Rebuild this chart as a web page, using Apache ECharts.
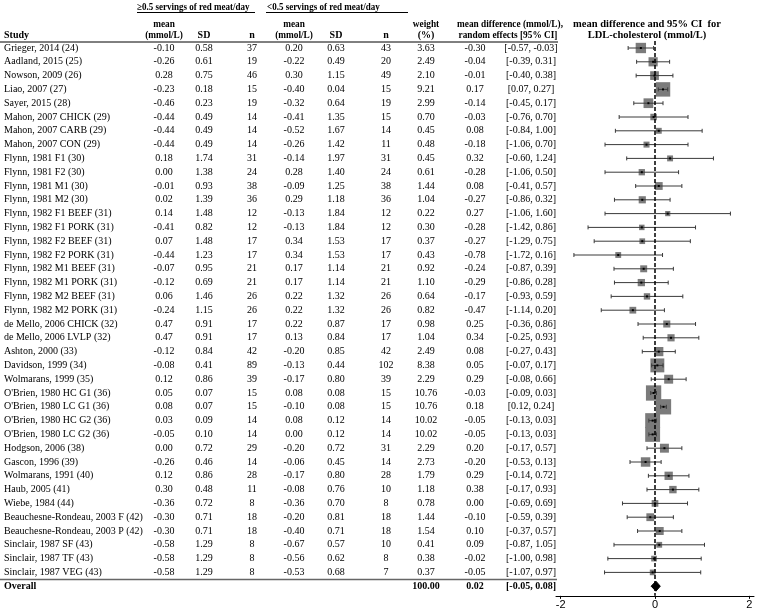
<!DOCTYPE html>
<html><head><meta charset="utf-8">
<script src="https://cdn.jsdelivr.net/npm/echarts@6/dist/echarts.min.js"></script>
<style>html,body{margin:0;padding:0;background:#fff}#c{width:757px;height:613px}</style>
</head><body><div id="c"></div>
<script>
const studies = ["Grieger, 2014 (24)","Aadland, 2015 (25)","Nowson, 2009 (26)","Liao, 2007 (27)","Sayer, 2015 (28)",
"Mahon, 2007 CHICK (29)","Mahon, 2007 CARB (29)","Mahon, 2007 CON (29)","Flynn, 1981 F1 (30)","Flynn, 1981 F2 (30)",
"Flynn, 1981 M1 (30)","Flynn, 1981 M2 (30)","Flynn, 1982 F1 BEEF (31)","Flynn, 1982 F1 PORK (31)","Flynn, 1982 F2 BEEF (31)",
"Flynn, 1982 F2 PORK (31)","Flynn, 1982 M1 BEEF (31)","Flynn, 1982 M1 PORK (31)","Flynn, 1982 M2 BEEF (31)","Flynn, 1982 M2 PORK (31)",
"de Mello, 2006 CHICK (32)","de Mello, 2006 LVLP (32)","Ashton, 2000 (33)","Davidson, 1999 (34)","Wolmarans, 1999 (35)",
"O'Brien, 1980 HC G1 (36)","O'Brien, 1980 LC G1 (36)","O'Brien, 1980 HC G2 (36)","O'Brien, 1980 LC G2 (36)","Hodgson, 2006 (38)",
"Gascon, 1996 (39)","Wolmarans, 1991 (40)","Haub, 2005 (41)","Wiebe, 1984 (44)","Beauchesne-Rondeau, 2003 F (42)",
"Beauchesne-Rondeau, 2003 P (42)","Sinclair, 1987 SF (43)","Sinclair, 1987 TF (43)","Sinclair, 1987 VEG (43)"];
const mean1 = [-0.10,-0.26,0.28,-0.23,-0.46,-0.44,-0.44,-0.44,0.18,0.00,-0.01,0.02,0.14,-0.41,0.07,-0.44,-0.07,-0.12,0.06,-0.24,0.47,0.47,-0.12,-0.08,0.12,0.05,0.08,0.03,-0.05,0.00,-0.26,0.12,0.30,-0.36,-0.30,-0.30,-0.58,-0.58,-0.58];
const sd1 = [0.58,0.61,0.75,0.18,0.23,0.49,0.49,0.49,1.74,1.38,0.93,1.39,1.48,0.82,1.48,1.23,0.95,0.69,1.46,1.15,0.91,0.91,0.84,0.41,0.86,0.07,0.07,0.09,0.10,0.72,0.46,0.86,0.48,0.72,0.71,0.71,1.29,1.29,1.29];
const n1 = [37,19,46,15,19,14,14,14,31,24,38,36,12,12,17,17,21,21,26,26,17,17,42,89,39,15,15,14,14,29,14,28,11,8,18,18,8,8,8];
const mean2 = [0.20,-0.22,0.30,-0.40,-0.32,-0.41,-0.52,-0.26,-0.14,0.28,-0.09,0.29,-0.13,-0.13,0.34,0.34,0.17,0.17,0.22,0.22,0.22,0.13,-0.20,-0.13,-0.17,0.08,-0.10,0.08,0.00,-0.20,-0.06,-0.17,-0.08,-0.36,-0.20,-0.40,-0.67,-0.56,-0.53];
const sd2 = [0.63,0.49,1.15,0.04,0.64,1.35,1.67,1.42,1.97,1.40,1.25,1.18,1.84,1.84,1.53,1.53,1.14,1.14,1.32,1.32,0.87,0.84,0.85,0.44,0.80,0.08,0.08,0.12,0.12,0.72,0.45,0.80,0.76,0.70,0.81,0.71,0.57,0.62,0.68];
const n2 = [43,20,49,15,19,15,14,11,31,24,38,36,12,12,17,17,21,21,26,26,17,17,42,102,39,15,15,14,14,31,14,28,10,8,18,18,10,8,7];
const weight = [3.63,2.49,2.10,9.21,2.99,0.70,0.45,0.48,0.45,0.61,1.44,1.04,0.22,0.30,0.37,0.43,0.92,1.10,0.64,0.82,0.98,1.04,2.49,8.38,2.29,10.76,10.76,10.02,10.02,2.29,2.73,1.79,1.18,0.78,1.44,1.54,0.41,0.38,0.37];
const md = [-0.30,-0.04,-0.01,0.17,-0.14,-0.03,0.08,-0.18,0.32,-0.28,0.08,-0.27,0.27,-0.28,-0.27,-0.78,-0.24,-0.29,-0.17,-0.47,0.25,0.34,0.08,0.05,0.29,-0.03,0.18,-0.05,-0.05,0.20,-0.20,0.29,0.38,0.00,-0.10,0.10,0.09,-0.02,-0.05];
const ciLow = [-0.57,-0.39,-0.40,0.07,-0.45,-0.76,-0.84,-1.06,-0.60,-1.06,-0.41,-0.86,-1.06,-1.42,-1.29,-1.72,-0.87,-0.86,-0.93,-1.14,-0.36,-0.25,-0.27,-0.07,-0.08,-0.09,0.12,-0.13,-0.13,-0.17,-0.53,-0.14,-0.17,-0.69,-0.59,-0.37,-0.87,-1.00,-1.07];
const ciHigh = [-0.03,0.31,0.38,0.27,0.17,0.70,1.00,0.70,1.24,0.50,0.57,0.32,1.60,0.86,0.75,0.16,0.39,0.28,0.59,0.20,0.86,0.93,0.43,0.17,0.66,0.03,0.24,0.03,0.03,0.57,0.13,0.72,0.93,0.69,0.39,0.57,1.05,0.98,0.97];
const overall = {label:"Overall", weight:100.00, md:0.02, lo:-0.05, hi:0.08};
const axisTicks = [-2, 0, 2];

const SERIF = '"Liberation Serif","Times New Roman",serif';
const FS = 10;
const COL = {study:4, mean1:164, sd1:204, n1:252, mean2:294, sd2:336, n2:386, w:426, md:475, ci:531};
const f2 = v => v.toFixed(2);
const ciText = (a,b) => '[' + f2(a) + ', ' + f2(b) + ']';

const chart = echarts.init(document.getElementById('c'), null, {renderer:'canvas'});
const NROW = studies.length;
const yAx = {type:'value', inverse:true, min:-0.5, max:39.7, show:false};
const gridTop = 41.1, gridBottom = 17.14;

function txt(x, y, text, align, bold, size, sx){
  return {type:'text', x:x, y:y, scaleX:sx||1, style:{text:text, align:align||'center', verticalAlign:'middle',
    fontFamily:SERIF, fontSize:size||FS, fontWeight:bold?'bold':'normal', fill:'#000'}};
}

const tableData = studies.map((s,i)=>[0,i]);
tableData.push([0, NROW]);

const option = {
  animation:false,
  grid:[
    {left:0, right:0, top:gridTop, bottom:gridBottom},
    {left:556, right:3, top:gridTop, bottom:gridBottom}
  ],
  xAxis:[
    {gridIndex:0, type:'value', min:0, max:757, show:false},
    {gridIndex:1, type:'value', min:-2.1, max:2.1, splitLine:{show:false},
      axisLine:{show:true, onZero:false, lineStyle:{color:'#000', width:1}},
      axisTick:{show:true, customValues:axisTicks, length:3, lineStyle:{color:'#000'}},
      axisLabel:{customValues:axisTicks, color:'#000', fontFamily:'"Liberation Sans",Arial,sans-serif', fontSize:11, margin:4,
        formatter:v=>String(v)}}
  ],
  yAxis:[Object.assign({gridIndex:0}, yAx), Object.assign({gridIndex:1}, yAx)],
  graphic:[
    txt(137, 7, '\u22650.5 servings of red meat/day', 'left', true, 10, 0.9),
    txt(267, 7, '<0.5 servings of red meat/day', 'left', true, 10, 0.9),
    {type:'line', shape:{x1:137, y1:12.5, x2:255, y2:12.5}, style:{stroke:'#000', lineWidth:1}},
    {type:'line', shape:{x1:266, y1:12.5, x2:408, y2:12.5}, style:{stroke:'#000', lineWidth:1}},
    txt(COL.mean1, 24, 'mean', 'center', true, 10, 0.93), txt(COL.mean1, 35.5, '(mmol/L)', 'center', true, 10, 0.93),
    txt(COL.sd1, 35.5, 'SD', 'center', true), txt(COL.n1, 35.5, 'n', 'center', true),
    txt(COL.mean2, 24, 'mean', 'center', true, 10, 0.93), txt(COL.mean2, 35.5, '(mmol/L)', 'center', true, 10, 0.93),
    txt(COL.sd2, 35.5, 'SD', 'center', true), txt(COL.n2, 35.5, 'n', 'center', true),
    txt(COL.study, 35.5, 'Study', 'left', true),
    txt(COL.w, 24, 'weight', 'center', true, 10, 0.93), txt(COL.w, 35.5, '(%)', 'center', true),
    txt(510, 24, 'mean difference (mmol/L),', 'center', true, 10, 0.93),
    txt(508, 35.5, 'random effects [95% CI]', 'center', true, 10, 0.93),
    txt(647, 24, 'mean difference and 95% CI  for', 'center', true, 10.5),
    txt(647, 35.5, 'LDL-cholesterol (mmol/L)', 'center', true, 10.5),
    {type:'line', shape:{x1:0, y1:42, x2:558, y2:42}, style:{stroke:'#000', lineWidth:1}},
    {type:'line', shape:{x1:0, y1:579.5, x2:557, y2:579.5}, style:{stroke:'#666', lineWidth:1.5}}
  ],
  series:[
    {
      type:'custom', xAxisIndex:0, yAxisIndex:0, encode:{x:0, y:1}, silent:true,
      data: tableData,
      renderItem: function(params, api){
        const i = api.value(1);
        const y = api.coord([0, i])[1];
        if (i === NROW) {
          return {type:'group', children:[
            txt(COL.study, y, overall.label, 'left', true),
            txt(COL.w, y, f2(overall.weight), 'center', true),
            txt(COL.md, y, f2(overall.md), 'center', true),
            txt(COL.ci, y, ciText(overall.lo, overall.hi), 'center', true)
          ]};
        }
        return {type:'group', children:[
          txt(COL.study, y, studies[i], 'left'),
          txt(COL.mean1, y, f2(mean1[i])),
          txt(COL.sd1, y, f2(sd1[i])),
          txt(COL.n1, y, String(n1[i])),
          txt(COL.mean2, y, f2(mean2[i])),
          txt(COL.sd2, y, f2(sd2[i])),
          txt(COL.n2, y, String(n2[i])),
          txt(COL.w, y, f2(weight[i])),
          txt(COL.md, y, f2(md[i])),
          txt(COL.ci, y, ciText(ciLow[i], ciHigh[i]))
        ]};
      }
    },
    {
      type:'custom', xAxisIndex:1, yAxisIndex:1, encode:{x:0, y:1}, silent:true, z:3,
      data: studies.map((s,i)=>[md[i], i]).concat([[overall.md, NROW]]),
      renderItem: function(params, api){
        const i = api.value(1);
        if (i === NROW) {
          const c = api.coord([overall.md, i]);
          const l = api.coord([overall.lo, i]);
          const h = api.coord([overall.hi, i]);
          return {type:'polygon', shape:{points:[[l[0]-1.5,c[1]],[c[0],c[1]-5],[h[0]+1.5,c[1]],[c[0],c[1]+5]]},
            style:{fill:'#000', stroke:'#000', lineWidth:1}};
        }
        const c = api.coord([md[i], i]);
        const l = api.coord([ciLow[i], i]);
        const h = api.coord([ciHigh[i], i]);
        const sz = 3.5 + 3.6 * Math.sqrt(weight[i]);
        const st = {stroke:'#3a3a3a', lineWidth:1};
        return {type:'group', children:[
          {type:'rect', shape:{x:c[0]-sz/2, y:c[1]-sz/2, width:sz, height:sz}, style:{fill:'#7b7b7b'}},
          {type:'line', shape:{x1:l[0], y1:c[1], x2:h[0], y2:c[1]}, style:st},
          {type:'line', shape:{x1:l[0], y1:c[1]-2, x2:l[0], y2:c[1]+2}, style:st},
          {type:'line', shape:{x1:h[0], y1:c[1]-2, x2:h[0], y2:c[1]+2}, style:st},
          {type:'rect', shape:{x:c[0]-1, y:c[1]-1, width:2, height:2}, style:{fill:'#000'}}
        ]};
      },
      markLine:{silent:true, symbol:'none', label:{show:false}, animation:false,
        lineStyle:{type:[4,2], color:'#000', width:1.5}, data:[{xAxis:0}]}
    }
  ]
};
chart.setOption(option);
</script>
</body></html>
